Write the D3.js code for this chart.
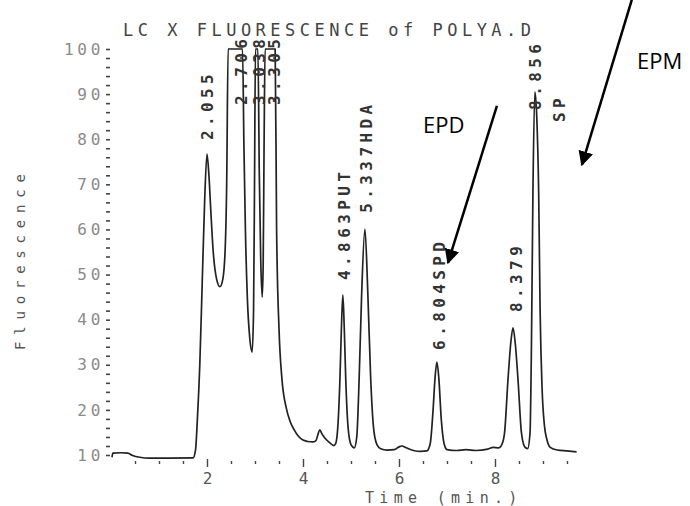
<!DOCTYPE html>
<html>
<head>
<meta charset="utf-8">
<script src="https://cdnjs.cloudflare.com/ajax/libs/d3/7.8.5/d3.min.js"></script>
<style>
  body { margin: 0; background: #fff; }
  svg text { font-family: "DejaVu Sans Mono", monospace; }
  .note { font-family: "Open Sans", "Liberation Sans", sans-serif; }
</style>
</head>
<body>
<div id="chart"></div>
<script>
// trace: time (min) and fluorescence
var times = [0.02, 0.04, 0.2, 0.35, 0.45, 0.6, 0.8, 1.2, 1.71, 1.76, 1.8, 1.85, 1.9, 1.95, 2.0,
  2.04, 2.08, 2.13, 2.2, 2.27, 2.33, 2.38, 2.41, 2.44, 2.74, 2.77, 2.8, 2.84, 2.89, 2.94,
  2.97, 2.99, 3.01, 3.06, 3.09, 3.12, 3.15, 3.17, 3.19, 3.21, 3.42, 3.45, 3.5, 3.56, 3.65,
  3.73, 3.82, 3.9, 4.0, 4.1, 4.2, 4.27, 4.31, 4.35, 4.39, 4.45, 4.55, 4.64, 4.68, 4.73,
  4.77, 4.8, 4.83, 4.86, 4.89, 4.94, 5.0, 5.07, 5.12, 5.17, 5.22, 5.29, 5.35, 5.41, 5.47,
  5.54, 5.62, 5.75, 5.9, 6.0, 6.06, 6.15, 6.3, 6.45, 6.58, 6.65, 6.71, 6.75, 6.79, 6.83,
  6.88, 6.94, 7.0, 7.2, 7.4, 7.6, 7.85, 7.96, 8.08, 8.15, 8.2, 8.27, 8.33, 8.375, 8.42,
  8.48, 8.55, 8.62, 8.68, 8.73, 8.76, 8.79, 8.83, 8.87, 8.91, 8.94, 8.98, 9.03, 9.08,
  9.15, 9.3, 9.5, 9.7];
var fluor = [9.5, 10.4, 10.5, 10.4, 9.9, 9.5, 9.3, 9.3, 9.35, 11, 18, 30, 48, 66, 76.7,
  72, 64, 55, 49, 47.3, 49, 56, 70, 100, 100, 78, 60, 45, 36, 32.8,
  42, 70, 100, 100, 72, 53, 45, 52, 80, 100, 100, 60, 38, 27, 20.5,
  17.5, 15.5, 14.2, 13.3, 13, 12.9, 13.2, 14.5, 15.6, 14.8, 13.8, 12.8, 12.1, 12.5, 17,
  27, 38, 45.5, 38, 27, 16, 12.3, 11.6, 14, 27, 45, 60.1, 46, 27, 16,
  12.3, 11.4, 11.1, 11.2, 11.8, 12.0, 11.6, 11.0, 10.8, 10.9, 12.5, 20, 27, 30.6, 27,
  18, 12.5, 11.2, 11.0, 11.2, 11.0, 11.3, 11.7, 11.6, 12.5, 15, 26.6, 35, 38.2, 35,
  26.6, 15, 11.8, 11.4, 15, 35, 68, 90.5, 85, 68, 42, 25, 16.5, 13.5,
  11.7, 11.1, 10.9, 10.7];

var yTicks = [10, 20, 30, 40, 50, 60, 70, 80, 90, 100];
var xTicks = [2, 4, 6, 8];

// printed peak labels, anchored at (time, fluorescence) where the text begins
var peakNames = ["2.055", "2.706", "3.038", "3.305", "4.863PUT", "5.337HDA", "6.804SPD", "8.379", "8.856", "SP"];
var peakTimes = [2.125, 2.83, 3.21, 3.52, 4.98, 5.44, 6.96, 8.56, 8.96, 9.46];
var peakLevels = [79.8, 87.6, 87.6, 87.6, 48.8, 63.7, 33.3, 41.7, 86.5, 83.8];

// hand written notes with arrows: text spot, arrow start, arrow tip
var notes = ["EPD", "EPM"];
var noteAt = [[6.5, 81.3], [10.96, 95.5]];
var arrowFrom = [[8.04, 87.4], [10.85, 110.9]];
var arrowTo = [[7.02, 52.6], [9.81, 74.3]];

var width = 690, height = 506;

var x = d3.scaleLinear().domain([0, 10]).range([111, 591]);
var y = d3.scaleLinear().domain([10, 100]).range([455, 49]);

var svg = d3
  .select("#chart")
  .append("svg")
  .attr("width", width)
  .attr("height", height);

svg
  .append("defs")
  .append("marker")
  .attr("id", "head")
  .attr("viewBox", "0 0 10 10")
  .attr("refX", 9)
  .attr("refY", 5)
  .attr("markerWidth", 6)
  .attr("markerHeight", 6)
  .attr("markerUnits", "strokeWidth")
  .attr("orient", "auto")
  .append("path")
  .attr("d", "M0,0 L10,5 L0,10 z")
  .attr("fill", "#000");

// title
svg
  .append("text")
  .attr("x", 123)
  .attr("y", 36)
  .attr("font-size", 17)
  .attr("letter-spacing", 4.5)
  .attr("fill", "#444")
  .text("LC X FLUORESCENCE of POLYA.D");

// y axis: dotted ticks every 2 units
var yAxis = svg
  .append("g")
  .attr("transform", "translate(110,0)")
  .call(
    d3
      .axisLeft(y)
      .tickValues(d3.range(10, 101, 2))
      .tickSize(4)
      .tickPadding(2)
      .tickFormat(function(d) {
        return yTicks.indexOf(d) >= 0 ? d : "";
      })
  );
yAxis.select(".domain").remove();
yAxis.selectAll("line").attr("stroke", "#444").attr("stroke-width", 1.6);
yAxis
  .selectAll("text")
  .attr("font-size", 16)
  .attr("letter-spacing", 3.7)
  .attr("fill", "#8a8a8a")
  .attr("font-family", "DejaVu Sans Mono, monospace");

// x axis: small marks every half minute
var xAxis = svg
  .append("g")
  .attr("transform", "translate(0,461)")
  .call(
    d3
      .axisBottom(x)
      .tickValues(d3.range(0.5, 9.6, 0.5))
      .tickSize(3)
      .tickPadding(9)
      .tickFormat(function(d) {
        return xTicks.indexOf(d) >= 0 ? d : "";
      })
  );
xAxis.select(".domain").remove();
xAxis
  .selectAll("line")
  .attr("stroke", "#444")
  .attr("stroke-width", 1.4)
  .attr("y1", function(d) {
    return xTicks.indexOf(d) >= 0 ? -2 : 0;
  })
  .attr("y2", function(d) {
    return xTicks.indexOf(d) >= 0 ? 6 : 3;
  });
xAxis
  .selectAll("text")
  .attr("font-size", 16)
  .attr("fill", "#555")
  .attr("font-family", "DejaVu Sans Mono, monospace");

// axis titles
svg
  .append("text")
  .attr("transform", "translate(25,350) rotate(-90)")
  .attr("font-size", 14)
  .attr("letter-spacing", 6.8)
  .attr("fill", "#555")
  .text("Fluorescence");

svg
  .append("text")
  .attr("x", 365)
  .attr("y", 503)
  .attr("font-size", 15)
  .attr("letter-spacing", 5.3)
  .attr("fill", "#555")
  .text("Time (min.)");

// the trace
var trace = times.map(function(t, i) {
  return { t: t, v: fluor[i] };
});

var line = d3
  .line()
  .x(function(d) {
    return x(d.t);
  })
  .y(function(d) {
    return y(d.v);
  })
  .curve(d3.curveMonotoneX);

svg
  .append("path")
  .attr("d", line(trace))
  .attr("fill", "none")
  .attr("stroke", "#222")
  .attr("stroke-width", 1.7)
  .attr("stroke-linejoin", "round");

// peak labels, printed sideways
svg
  .selectAll(".peak")
  .data(peakNames)
  .enter()
  .append("text")
  .attr("class", "peak")
  .attr("transform", function(d, i) {
    return "translate(" + x(peakTimes[i]) + "," + y(peakLevels[i]) + ") rotate(-90)";
  })
  .attr("font-size", 16)
  .attr("font-weight", "bold")
  .attr("letter-spacing", 4.4)
  .attr("fill", "#333")
  .text(function(d) {
    return d;
  });

// notes and arrows
svg
  .selectAll(".note")
  .data(notes)
  .enter()
  .append("text")
  .attr("class", "note")
  .attr("x", function(d, i) {
    return x(noteAt[i][0]);
  })
  .attr("y", function(d, i) {
    return y(noteAt[i][1]);
  })
  .attr("font-size", 22)
  .attr("fill", "#000")
  .style("font-family", "'Open Sans', 'Liberation Sans', sans-serif")
  .text(function(d) {
    return d;
  });

svg
  .selectAll(".arrow")
  .data(notes)
  .enter()
  .append("line")
  .attr("class", "arrow")
  .attr("x1", function(d, i) {
    return x(arrowFrom[i][0]);
  })
  .attr("y1", function(d, i) {
    return y(arrowFrom[i][1]);
  })
  .attr("x2", function(d, i) {
    return x(arrowTo[i][0]);
  })
  .attr("y2", function(d, i) {
    return y(arrowTo[i][1]);
  })
  .attr("stroke", "#000")
  .attr("stroke-width", 2.5)
  .attr("marker-end", "url(#head)");
</script>
</body>
</html>
